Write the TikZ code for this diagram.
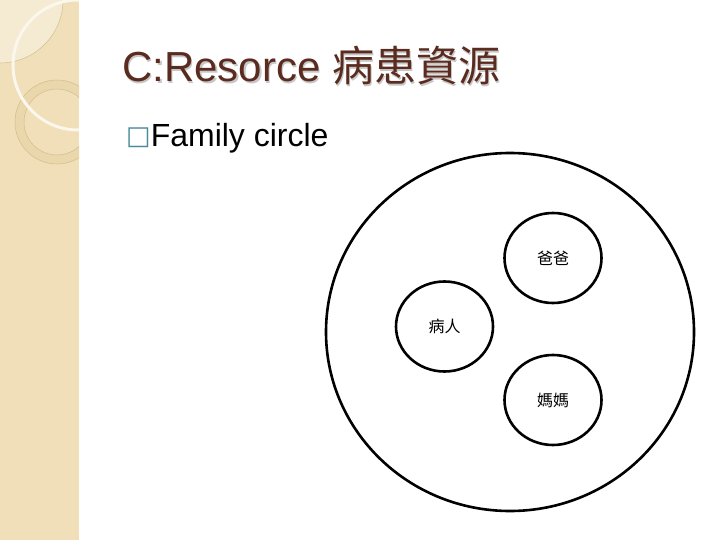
\documentclass[tikz,border=0pt]{standalone}
\usepackage{fontspec}
\setmainfont{Liberation Sans}
\newfontfamily\cjk{Noto Sans CJK TC}
\newfontfamily\symfont{DejaVu Sans}
\usetikzlibrary{shapes.geometric}
\definecolor{titlebrown}{HTML}{5A2B1E}
\definecolor{bandbeige}{HTML}{F0DFB8}
\definecolor{bandlight}{HTML}{F5EBD3}
\definecolor{ringfill}{HTML}{EBD7AC}
\definecolor{ringtan}{HTML}{D2BD8E}
\definecolor{bullteal}{HTML}{4A8C9C}

\begin{document}
\begin{tikzpicture}[
            x=1pt, y=-1pt,
            ring/.style={draw, ellipse, line width=2.6pt, inner sep=0pt},
            member/.style={ring, minimum width=97pt, minimum height=90pt, font=\cjk\fontsize{16}{16}\selectfont}
        ]
        \useasboundingbox (0,0) rectangle (720,540);
        \fill[white] (0,0) rectangle (720,540);

        % side band
        \begin{scope}
            \clip (0,0) rectangle (79,540);
            \fill[bandbeige] (0,0) rectangle (79,540);
            \fill[bandlight] (0,0) circle[radius=63pt];
            \draw[ringtan, line width=0.5pt] (0,0) circle[radius=63pt];
            \fill[ringfill, even odd rule] (57,122) circle[radius=42pt] (57,122) circle[radius=33pt];
            \draw[ringtan, line width=0.5pt] (57,122) circle[radius=42pt];
            \draw[ringtan, line width=0.5pt] (57,122) circle[radius=33pt];
            \draw[white!75!bandbeige, line width=3pt] (78,65) circle[radius=65pt];
        \end{scope}

        % title and bullet
        \node[anchor=base west, inner sep=0pt, font=\fontsize{42}{42}\selectfont, text=black!22] at (123.5,83.5) {C:Resorce {\cjk 病患資源}};
        \node[anchor=base west, inner sep=0pt, font=\fontsize{42}{42}\selectfont, text=titlebrown] (title) at (122,82) {C:Resorce {\cjk 病患資源}};
        \node[anchor=base west, inner sep=0pt, font=\fontsize{32}{32}\selectfont] (bullet) at (126,147) {\raisebox{2.5pt}{\symfont\fontsize{26}{26}\selectfont\color{bullteal}□}Family circle};

        % family circle
        \node[ring, minimum width=368pt, minimum height=358pt] (family) at (510,332) {};
        \node[member] (dad) at (553,258) {爸爸};
        \node[member] (patient) at (444.5,326.5) {病人};
        \node[member] (mom) at (553,400) {媽媽};
    \end{tikzpicture}
\end{document}
